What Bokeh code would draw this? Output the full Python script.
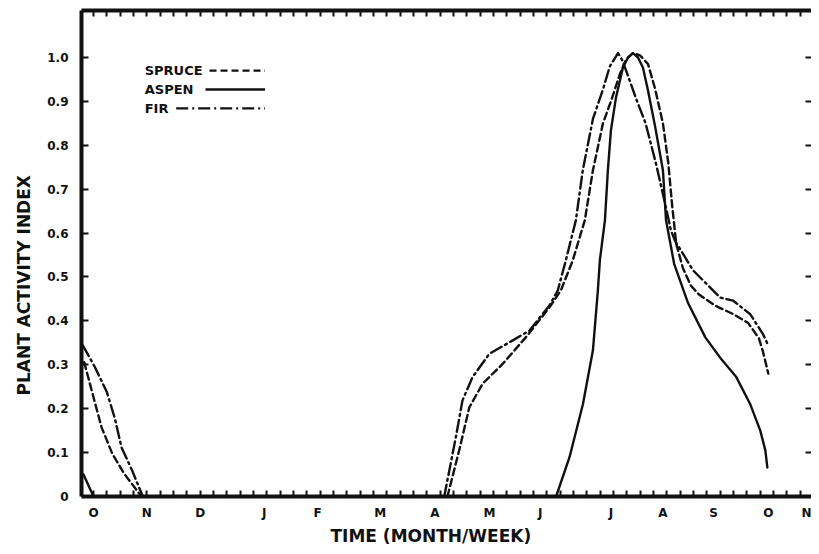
import numpy as np
from bokeh.plotting import figure
from bokeh.models import FixedTicker, LinearAxis, Range1d, Label, Title
from bokeh.embed import file_html
from bokeh.resources import INLINE

# ---- data (x in weeks from the start of October, y = plant activity index) ----
month_labels = ["O", "N", "D", "J", "F", "M", "A", "M", "J", "J", "A", "S", "O", "N"]
month_weeks = [0.9, 4.9, 8.9, 13.7, 17.7, 22.4, 26.5, 30.6, 34.4, 39.7, 43.6, 47.4, 51.5, 54.4]

y_ticks = [0, 0.1, 0.2, 0.3, 0.4, 0.5, 0.6, 0.7, 0.8, 0.9, 1.0]
y_tick_labels = ["0", "0.1", "0.2", "0.3", "0.4", "0.5", "0.6", "0.7", "0.8", "0.9", "1.0"]

# autumn tail (start of record)
spruce_fall_weeks = [0.2, 0.9, 1.5, 2.3, 3.2, 4.5]
spruce_fall_vals = [0.306, 0.226, 0.158, 0.098, 0.052, 0.0]
aspen_fall_weeks = [0.15, 0.9]
aspen_fall_vals = [0.05, 0.0]
fir_fall_weeks = [0.1, 1.0, 1.9, 2.5, 3.0, 3.8, 4.6]
fir_fall_vals = [0.344, 0.295, 0.238, 0.178, 0.112, 0.059, 0.0]

# growing season
spruce_weeks = [27.44, 28.32, 29.08, 30.08, 31.58, 33.33, 35.09, 35.94, 36.84, 37.74,
                38.35, 39.1, 39.7, 40.38, 40.83, 41.35, 41.88, 42.48, 43.0, 43.6,
                44.0, 44.3, 44.6, 45.1, 45.7, 46.3, 47.5, 48.9, 50.0, 50.8, 51.1, 51.5]
spruce_vals = [0.0, 0.105, 0.203, 0.257, 0.302, 0.363, 0.431, 0.469, 0.538, 0.629,
               0.743, 0.85, 0.90, 0.963, 0.995, 1.01, 1.005, 0.985, 0.93, 0.85,
               0.76, 0.66, 0.575, 0.52, 0.48, 0.46, 0.435, 0.415, 0.395, 0.36, 0.33, 0.28]
aspen_weeks = [35.59, 36.6, 37.6, 38.35, 38.72, 38.87, 39.25, 39.47, 39.7, 40.08, 40.6,
               40.98, 41.35, 41.73, 42.1, 42.48, 43.0, 43.6, 43.83, 44.44, 45.49, 46.77,
               47.97, 49.1, 50.15, 50.9, 51.28, 51.43]
aspen_vals = [0.0, 0.09, 0.21, 0.333, 0.469, 0.538, 0.629, 0.743, 0.834, 0.909, 0.977,
              1.0, 1.01, 1.0, 0.977, 0.925, 0.845, 0.743, 0.63, 0.53, 0.44, 0.363,
              0.313, 0.272, 0.21, 0.15, 0.105, 0.066]
fir_weeks = [27.2, 28.07, 28.57, 29.32, 30.58, 32.08, 33.59, 35.09, 35.71, 36.32, 37.07,
             37.59, 38.35, 39.1, 39.62, 40.23, 40.53, 40.9, 41.6, 42.3, 43.08, 43.76,
             44.2, 44.5, 45.1, 45.86, 47.9, 48.87, 50.15, 51.1, 51.5]
fir_vals = [0.0, 0.135, 0.219, 0.272, 0.325, 0.351, 0.378, 0.435, 0.469, 0.538, 0.629,
            0.743, 0.86, 0.927, 0.98, 1.01, 0.995, 0.965, 0.905, 0.85, 0.758, 0.667,
            0.606, 0.583, 0.553, 0.515, 0.453, 0.446, 0.415, 0.37, 0.344]

week_ticks = list(np.arange(0.9, 54.8, 1.0))

FONT = "DejaVu Sans"
INK = "#111111"
SPRUCE_DASH = "7 4"
FIR_DASH = "12 4 2 4"
LW = 2.4

p = figure(width=811, height=546, x_range=Range1d(0, 54.74), y_range=Range1d(0, 1.107),
           output_backend="svg", toolbar_location=None,
           min_border_left=80, min_border_right=0, min_border_top=10, min_border_bottom=50)
p.outline_line_color = None
p.xgrid.visible = False
p.ygrid.visible = False
p.background_fill_color = "white"
p.border_fill_color = "white"

# bottom axis
xa = p.xaxis[0]
xa.ticker = FixedTicker(ticks=month_weeks, minor_ticks=week_ticks)
xa.major_label_overrides = {w: m for w, m in zip(month_weeks, month_labels)}
xa.axis_line_width = 4
xa.axis_line_color = INK
xa.major_tick_line_color = None
xa.major_tick_in = 0
xa.major_tick_out = 0
xa.minor_tick_in = 6
xa.minor_tick_out = 0
xa.minor_tick_line_width = 2
xa.minor_tick_line_color = INK
xa.major_label_standoff = 9
xa.major_label_text_font = FONT
xa.major_label_text_font_style = "bold"
xa.major_label_text_font_size = "12px"
xa.major_label_text_color = INK

# left axis
ya = p.yaxis[0]
ya.ticker = FixedTicker(ticks=y_ticks)
ya.major_label_overrides = {t: s for t, s in zip(y_ticks, y_tick_labels)}
ya.axis_line_width = 4
ya.axis_line_color = INK
ya.major_tick_in = 7
ya.major_tick_out = 0
ya.major_tick_line_width = 2
ya.major_tick_line_color = INK
ya.minor_tick_line_color = None
ya.major_label_standoff = 13
ya.major_label_text_font = FONT
ya.major_label_text_font_style = "bold"
ya.major_label_text_font_size = "12px"
ya.major_label_text_color = INK

# top axis (thick line with weekly ticks)
top = LinearAxis(ticker=FixedTicker(ticks=[], minor_ticks=week_ticks),
                 axis_line_width=4, axis_line_color=INK,
                 major_tick_in=0, major_tick_out=0, major_label_standoff=0,
                 minor_tick_in=6, minor_tick_out=0, minor_tick_line_width=2,
                 minor_tick_line_color=INK)
p.add_layout(top, "above")

# right axis (inward ticks only)
right = LinearAxis(ticker=FixedTicker(ticks=y_ticks),
                   major_label_overrides={t: "" for t in y_ticks},
                   axis_line_color=None, major_tick_in=6, major_tick_out=0,
                   major_tick_line_width=2, major_tick_line_color=INK,
                   minor_tick_line_color=None, major_label_standoff=0)
p.add_layout(right, "right")

# curves
kw = dict(line_color=INK, line_width=LW, line_join="round", line_cap="round")
p.line(spruce_fall_weeks, spruce_fall_vals, line_dash=SPRUCE_DASH, **kw)
p.line(spruce_weeks, spruce_vals, line_dash=SPRUCE_DASH, **kw)
p.line(aspen_fall_weeks, aspen_fall_vals, **kw)
p.line(aspen_weeks, aspen_vals, **kw)
p.line(fir_fall_weeks, fir_fall_vals, line_dash=FIR_DASH, **kw)
p.line(fir_weeks, fir_vals, line_dash=FIR_DASH, **kw)

# legend (text followed by a line sample, as in the original)
legend_names = ["SPRUCE", "ASPEN", "FIR"]
legend_dashes = [SPRUCE_DASH, "solid", FIR_DASH]
legend_row_y = [0.970, 0.927, 0.884]
legend_text_x = 4.74
legend_line_start = [9.6, 9.3, 7.1]
legend_line_end = 13.76
for name, dash, ry, ls in zip(legend_names, legend_dashes, legend_row_y, legend_line_start):
    p.add_layout(Label(x=legend_text_x, y=ry, text=name, text_font=FONT,
                       text_font_style="bold", text_font_size="13px",
                       text_baseline="middle", text_align="left", text_color=INK))
    p.line([ls, legend_line_end], [ry, ry], line_color=INK, line_width=LW, line_dash=dash)

# axis titles
p.add_layout(Title(text="TIME (MONTH/WEEK)", align="left", offset=249, standoff=2,
                   text_font=FONT, text_font_style="bold", text_font_size="17px",
                   text_color=INK), "below")
p.add_layout(Title(text="PLANT ACTIVITY INDEX", align="left", offset=101, standoff=22,
                   text_font=FONT, text_font_style="bold", text_font_size="17px",
                   text_color=INK), "left")

open("out.html", "w").write(file_html(p, INLINE))
